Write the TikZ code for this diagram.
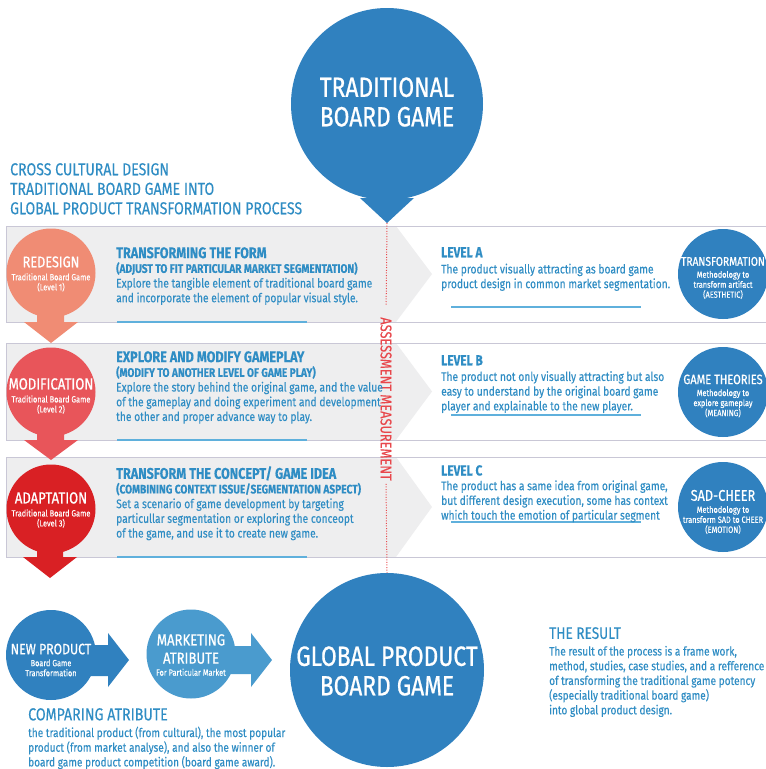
\documentclass[tikz,border=0pt]{standalone}
\usepackage{fontspec}
\setmainfont[FakeStretch=0.82,FakeBold=0.2]{Fira Sans}
\newfontfamily\medf[FakeStretch=0.82,FakeBold=0.7]{Fira Sans}
\usetikzlibrary{calc}
\definecolor{blueC}{HTML}{3081BF}
\definecolor{blueL}{HTML}{4A9BCE}
\definecolor{txtB}{HTML}{2F8DC4}
\definecolor{bandG}{HTML}{EEEEEF}
\definecolor{edgeG}{HTML}{C9C7D6}
\definecolor{uline}{HTML}{5FB0DC}
\definecolor{redA}{HTML}{F08C74}
\definecolor{redB}{HTML}{E8555A}
\definecolor{redC}{HTML}{D92024}
\definecolor{redT}{HTML}{E8474C}
\newcommand{\fz}[1]{\fontsize{#1}{14.7}\selectfont}
\newcommand{\hdf}{\fontsize{15.4}{14.7}\selectfont\bfseries}
\newcommand{\lvf}{\fontsize{14.5}{14.7}\selectfont\bfseries}
\newcommand{\shf}{\fontsize{12.4}{14.7}\selectfont\bfseries}
\tikzset{
 x=1pt,y=-1pt,
 disc/.style={circle,inner sep=0pt,minimum size=#1},
 block/.style={anchor=north west,inner sep=0pt,text=txtB,align=left,font=\fontsize{12.5}{14.7}\selectfont},
 inner/.style={text=white,align=center,inner sep=0pt,font=\fontsize{9}{10}\selectfont},
 bignode/.style={text=white,align=center,inner sep=0pt,font=\medf\fontsize{27.8}{29.5}\selectfont},
 ul/.style={draw=uline,line width=1.3pt},
 edgeline/.style={draw=edgeG,line width=1pt},
}
\begin{document}
\begin{tikzpicture}
\useasboundingbox (0,0) rectangle (766,769);
\fill[white] (0,0) rectangle (766,769);
% bands
\foreach \t/\b in {226/322,343/440,457/557}{
 \fill[bandG] (6,\t) -- (396,\t) -- (432,{(\t+\b)/2}) -- (396,\b) -- (6,\b) -- cycle;
 \draw[edgeline] (396,\t) -- (766,\t);
 \draw[edgeline] (396,\b) -- (766,\b);
 \draw[edgeline,line width=.6pt] (396,\t) -- (6,\t) -- (6,\b) -- (396,\b);
}
% underlines
\foreach \y in {322,440,557} \draw[ul] (117,\y) -- (307,\y);
\foreach \y in {307,415,522} \draw[ul] (451,\y) -- (641,\y);
% left discs and arrows
\fill[redA] (37,300) -- (64,300) -- (64,322) -- (78,322) -- (51,343) -- (24,322) -- (37,322) -- cycle;
\fill[redB] (37,425) -- (64,425) -- (64,440) -- (78,440) -- (51,460) -- (24,440) -- (37,440) -- cycle;
\fill[redC] (37,540) -- (63,540) -- (63,557) -- (77,557) -- (50,578) -- (23,557) -- (37,557) -- cycle;
\node[disc=89pt,fill=redA] (redesign) at (51,273) {};
\node[disc=89pt,fill=redB] (modification) at (51,392) {};
\node[disc=89pt,fill=redC] (adaptation) at (51,509) {};
\node[inner] (redesignT) at (51,274) {{\medf\fontsize{15.5}{14}\selectfont REDESIGN}\\[3pt]Traditional Board Game\\(Level 1)};
\node[inner] (modificationT) at (51,396) {{\medf\fontsize{16}{14}\selectfont MODIFICATION}\\[3pt]Traditional Board Game\\(Level 2)};
\node[inner] (adaptationT) at (51,510) {{\medf\fontsize{16}{14}\selectfont ADAPTATION}\\[3pt]Traditional Board Game\\(Level 3)};
% right discs
\node[disc=90pt,fill=blueC] (transf) at (723,274) {};
\node[disc=90pt,fill=blueC] (theories) at (723,392) {};
\node[disc=90pt,fill=blueC] (sad) at (723,507) {};
\node[inner] (transfT) at (723,278) {{\medf\fontsize{12.5}{13}\selectfont TRANSFORMATION}\\[2pt]Methodology to\\transform artifact\\(AESTHETIC)};
\node[inner] (theoriesT) at (723,396) {{\medf\fontsize{13.5}{13}\selectfont GAME THEORIES}\\[2pt]Methodology to\\explore gameplay\\(MEANING)};
\node[inner] (sadT) at (723,512) {{\medf\fontsize{15.5}{14}\selectfont SAD-CHEER}\\[2pt]Methodology to\\transform SAD to CHEER\\(EMOTION)};
% big discs
\fill[blueC] (360,198) -- (414,198) -- (387,223) coordinate (tip) -- cycle;
\node[disc=192pt,fill=blueC] (trad) at (387,104) {};
\node[bignode] (tradT) at (387,102) {TRADITIONAL\\BOARD GAME};
\node[disc=194pt,fill=blueC] (global) at (387,670) {};
\node[bignode] (globalT) at (387,671) {GLOBAL PRODUCT\\BOARD GAME};
% assessment
\node[rotate=-90,text=redT,inner sep=0pt,font=\fontsize{15.6}{14}\selectfont] (assess) at (386,399) {ASSESSMENT MEASUREMENT};
\draw[redT,line width=1pt,dotted,dash pattern=on 1pt off 1.6pt,shorten >=11pt] (tip) -- (assess.west);
\draw[redT,line width=1pt,dotted,dash pattern=on 1pt off 1.6pt,shorten <=3pt] (assess.east) -- (global.north);
% title
\node[block,font=\fontsize{17.2}{19.5}\selectfont] (title) at (10,163) {CROSS CULTURAL DESIGN\\TRADITIONAL BOARD GAME INTO\\GLOBAL PRODUCT TRANSFORMATION PROCESS};
% left blocks
\node[block] (b1) at (116,247) {{\hdf TRANSFORMING THE FORM}\\{\shf (ADJUST TO FIT PARTICULAR MARKET SEGMENTATION)}\\Explore the tangible element of traditional board game\\and incorporate the element of popular visual style.};
\node[block] (b2) at (116,351) {{\hdf EXPLORE AND MODIFY GAMEPLAY}\\{\shf (MODIFY TO ANOTHER LEVEL OF GAME PLAY)}\\Explore the story behind the original game, and the value\\of the gameplay and doing experiment and development\\the other and proper advance way to play.};
\node[block] (b3) at (116,466) {{\hdf TRANSFORM THE CONCEPT/ GAME IDEA}\\{\shf (COMBINING CONTEXT ISSUE/SEGMENTATION ASPECT)}\\Set a scenario of game development by targeting\\particullar segmentation or exploring the conceopt\\of the game, and use it to create new game.};
% right blocks
\node[block] (r1) at (441,247) {{\lvf LEVEL A}\\[1.5pt]The product visually attracting as board game\\product design in common market segmentation.};
\node[block] (r2) at (441,355) {{\lvf LEVEL B}\\[1pt]The product not only visually attracting but also\\easy to understand by the original board game\\player and explainable to the new player.};
\node[block] (r3) at (441,465) {{\lvf LEVEL C}\\The product has a same idea from original game,\\but different design execution, some has context\\which touch the emotion of particular segment};
% bottom
\fill[blueC] (90,645) -- (108,645) -- (108,633) -- (129,660) -- (108,687) -- (108,676) -- (90,676) -- cycle;
\fill[blueL] (230,646) -- (251,646) -- (251,633) -- (272,660) -- (251,687) -- (251,674) -- (230,674) -- cycle;
\node[disc=90pt,fill=blueC] (newp) at (51,655) {};
\node[disc=89pt,fill=blueL] (mark) at (191,654) {};
\node[inner] (newpT) at (51,660) {{\medf\fontsize{15}{14}\selectfont NEW PRODUCT}\\[2pt]Board Game\\Transformation};
\node[inner] (markT) at (191,655) {{\medf\fontsize{16}{17}\selectfont MARKETING}\\[6pt]{\medf\fontsize{16}{17}\selectfont ATRIBUTE}\\[2pt]For Particular Market};
\node[block,font=\fontsize{12.3}{14.7}\selectfont] (comp) at (28,708) {{\fontsize{17.3}{14.7}\selectfont COMPARING ATRIBUTE}\\[2pt]the traditional product (from cultural), the most popular\\product (from market analyse), and also the winner of\\board game product competition (board game award).};
\node[block,font=\fontsize{12.3}{14.7}\selectfont] (res) at (549,627) {{\fontsize{16.6}{14.7}\selectfont THE RESULT}\\[2pt]The result of the process is a frame work,\\method, studies, case studies, and a refference\\of transforming the traditional game potency\\(especially traditional board game)\\into global product design.};
\end{tikzpicture}
\end{document}
